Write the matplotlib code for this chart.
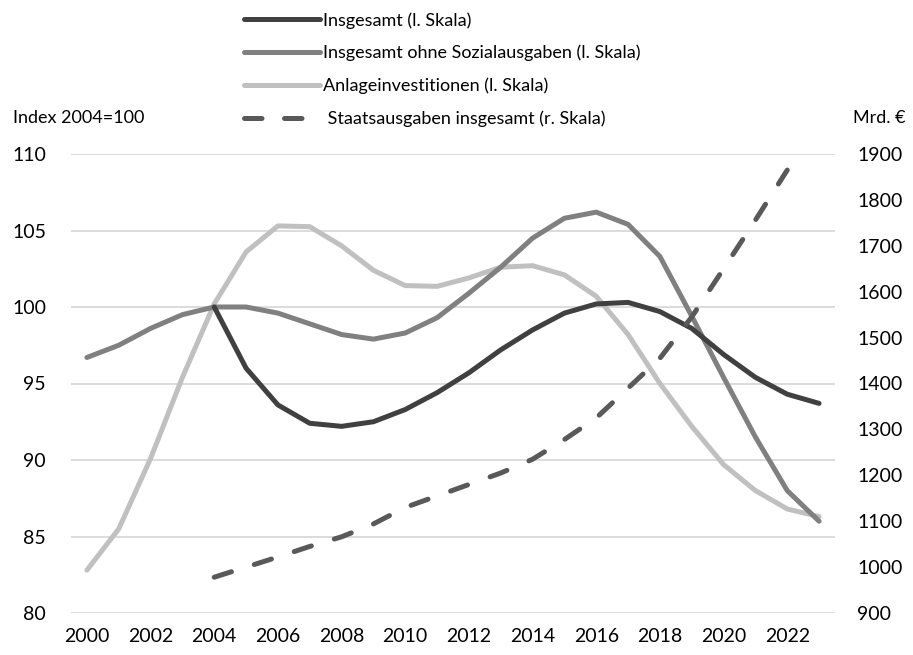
import matplotlib
matplotlib.use("Agg")
import matplotlib.pyplot as plt
from matplotlib.lines import Line2D

plt.rcParams["font.family"] = ["Lato", "DejaVu Sans"]

years = list(range(2000, 2024))

# Index 2004=100 (left scale)
insgesamt = [None, None, None, None, 100.0, 96.0, 93.6, 92.4, 92.2, 92.5, 93.3, 94.4,
             95.7, 97.2, 98.5, 99.6, 100.2, 100.3, 99.7, 98.6, 96.9, 95.4, 94.3, 93.7]
ohne_sozial = [96.7, 97.5, 98.6, 99.5, 100.0, 100.0, 99.6, 98.9, 98.2, 97.9, 98.3, 99.3,
               100.9, 102.6, 104.5, 105.8, 106.2, 105.4, 103.3, 99.4, 95.4, 91.5, 88.0, 86.0]
anlage = [82.8, 85.5, 90.1, 95.4, 100.2, 103.6, 105.3, 105.25, 104.0, 102.4, 101.4, 101.35,
          101.9, 102.6, 102.7, 102.1, 100.7, 98.2, 95.0, 92.2, 89.7, 88.0, 86.8, 86.3]

# Mrd. Euro (right scale)
staat_years = list(range(2004, 2023))
staatsausgaben = [978, 1000, 1022, 1045, 1066, 1094, 1130, 1155, 1180, 1205, 1235,
                  1278, 1325, 1390, 1455, 1545, 1650, 1756, 1865]

labels = ["Insgesamt (l. Skala)", "Insgesamt ohne Sozialausgaben (l. Skala)",
          "Anlageinvestitionen (l. Skala)", " Staatsausgaben insgesamt (r. Skala)"]

c_dark, c_mid, c_light, c_dash = "#404040", "#808080", "#c0c0c0", "#595959"
lw = 3.6

fig = plt.figure(figsize=(9.13, 6.55), dpi=100)
ax = fig.add_axes([71 / 913, 42 / 655, 764 / 913, 459 / 655])
ax2 = ax.twinx()

ax.plot(years, ohne_sozial, color=c_mid, lw=lw, solid_capstyle="round", zorder=3)
ax.plot(years, anlage, color=c_light, lw=lw, solid_capstyle="round", zorder=2)
ax.plot(years, insgesamt, color=c_dark, lw=lw, solid_capstyle="round", zorder=4)
ax2.plot(staat_years, staatsausgaben, color=c_dash, lw=lw, dashes=(3.6, 4.8),
         dash_capstyle="round")

ax.set_xlim(1999.5, 2023.5)
ax.set_ylim(80, 110)
ax2.set_ylim(900, 1900)
ax.set_yticks(range(80, 111, 5))
ax2.set_yticks(range(900, 1901, 100))
ax.set_xticks(range(2000, 2023, 2))
ax.grid(axis="y", color="#d9d9d9", lw=1.3)
ax.set_axisbelow(True)

for a in (ax, ax2):
    for s in a.spines.values():
        s.set_visible(False)
    a.tick_params(length=0, labelsize=14, colors="black")
ax.tick_params(axis="y", pad=18)
ax.tick_params(axis="x", pad=11)
ax2.tick_params(axis="y", pad=16)

fig.text(13 / 913, 1 - 118 / 655, "Index 2004=100", fontsize=13, va="center", ha="left")
fig.text(905 / 913, 1 - 118 / 655, "Mrd. \u20ac", fontsize=13, va="center", ha="right")

handles = [Line2D([], [], color=c_dark, lw=lw, solid_capstyle="round"),
           Line2D([], [], color=c_mid, lw=lw, solid_capstyle="round"),
           Line2D([], [], color=c_light, lw=lw, solid_capstyle="round"),
           Line2D([], [], color=c_dash, lw=lw, dashes=(3.5, 4.5), dash_capstyle="round")]
fig.legend(handles, labels, loc="upper left", bbox_to_anchor=(244 / 913, 1 - 12 / 655),
           frameon=False, fontsize=13, handlelength=4.2, handletextpad=0.15,
           labelspacing=0.9, borderpad=0, borderaxespad=0)

fig.savefig("out.png", dpi=100)
